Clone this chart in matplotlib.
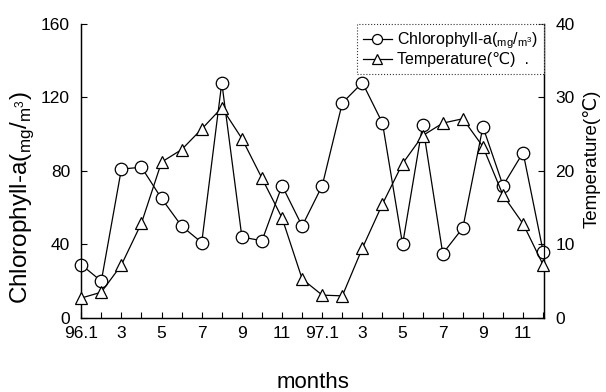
import matplotlib
matplotlib.use("Agg")
import matplotlib.pyplot as plt
from matplotlib.ticker import FixedLocator, MultipleLocator

plt.rcParams['font.family'] = ['Liberation Sans', 'DejaVu Sans']
plt.rcParams['mathtext.fontset'] = 'custom'
plt.rcParams['mathtext.rm'] = 'Liberation Sans'

months = list(range(24))
tick_labels = ["96.1", "3", "5", "7", "9", "11", "97.1", "3", "5", "7", "9", "11"]
chlorophyll = [29, 20, 81, 82, 65, 50, 41, 128, 44, 42, 72, 50,
               72, 117, 128, 106, 40, 105, 35, 49, 104, 72, 90, 36]
temperature = [2.7, 3.5, 7.2, 12.9, 21.2, 22.9, 25.7, 28.6, 24.4, 19.0, 13.6, 5.3,
               3.1, 3.0, 9.5, 15.5, 21.0, 24.8, 26.5, 27.1, 23.3, 16.7, 12.8, 7.2]

fig = plt.figure(figsize=(6.06, 3.92), dpi=100)
ax = fig.add_axes([0.134, 0.189, 0.764, 0.750])
ax2 = ax.twinx()

l1, = ax.plot(months, chlorophyll, color='black', lw=0.9, marker='o', ms=9,
              mfc='white', mec='black', mew=0.9, clip_on=False, zorder=3)
l2, = ax2.plot(months, temperature, color='black', lw=0.9, marker='^', ms=9,
               mfc='white', mec='black', mew=0.9, clip_on=False, zorder=3)

ax.set_xlim(0, 23.05)
ax.set_ylim(0, 160)
ax2.set_ylim(0, 40)
ax.set_yticks([0, 40, 80, 120, 160])
ax2.set_yticks([0, 10, 20, 30, 40])
ax.xaxis.set_major_locator(FixedLocator(list(range(0, 24, 2))))
ax.set_xticklabels(tick_labels)
ax.xaxis.set_minor_locator(MultipleLocator(1))

for a in (ax, ax2):
    a.spines['top'].set_visible(False)
    for s in a.spines.values():
        s.set_linewidth(0.9)
ax.tick_params(axis='both', which='both', direction='in', length=4, width=0.8, labelsize=12.5)
ax.tick_params(axis='x', which='both', pad=6)
ax.tick_params(axis='y', pad=8)
ax2.tick_params(axis='y', direction='in', length=4, width=0.8, labelsize=12.5, pad=8)

ax.set_ylabel("Chlorophyll-a($_{\\mathrm{mg}}$/$_{\\mathrm{m^3}}$)", fontsize=17.5)
ax.yaxis.set_label_coords(-0.097, 0.41)
ax2.set_ylabel("Temperature(℃)", fontsize=13.5)
ax2.yaxis.set_label_coords(1.084, 0.54)
ax.set_xlabel("months", fontsize=16)
ax.xaxis.set_label_coords(0.5, -0.184)

leg = ax2.legend([l1, l2],
                 ["Chlorophyll-a($_{\\mathrm{mg}}$/$_{\\mathrm{m^3}}$)", "Temperature(℃)  ."],
                 loc='upper right', bbox_to_anchor=(1.0, 1.0), borderaxespad=0,
                 fontsize=11.5, frameon=True, fancybox=False, handlelength=1.8,
                 handletextpad=0.3, labelspacing=0.1, borderpad=0.4, markerscale=0.8)
fr = leg.get_frame()
fr.set_edgecolor('black')
fr.set_linestyle(':')
fr.set_linewidth(0.8)

fig.savefig("out.png", dpi=100)
